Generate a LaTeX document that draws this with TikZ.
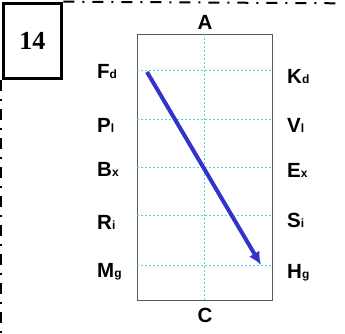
\documentclass[tikz,border=0pt]{standalone}
\usepackage{fontspec}
\setmainfont{Liberation Sans}
\newfontfamily\numfont{Liberation Serif}
\usetikzlibrary{arrows.meta,positioning}

\definecolor{gridcol}{RGB}{64,224,200}
\definecolor{arrowcol}{RGB}{51,51,204}
\newcommand{\sublab}[2]{#1{\fontsize{12}{12}\selectfont #2}}

\begin{document}
\begin{tikzpicture}[x=1pt,y=-1pt,font=\bfseries\fontsize{20.5}{20.5}\selectfont,
  frameline/.style={line width=2pt,dash pattern=on 11pt off 8pt on 2pt off 8pt},
  gridline/.style={gridcol,line width=1pt,dash pattern=on 2.2pt off 1.8pt},
  levellab/.style={inner sep=0pt,anchor=base west},
  vector/.style={arrowcol,line width=4pt,-{Latex[length=13pt,width=12pt]}}]
  \useasboundingbox (0,0) rectangle (345,333);
  % number box and page frame
  \node[draw,line width=3.3pt,minimum width=58.4pt,minimum height=75.4pt,inner sep=0pt]
    (num) at (32.5,41) {\numfont\fontsize{26}{26}\selectfont 14};
  \draw[frameline] (num.north east) -- (338,3.3);
  \draw[frameline] (1.2,80) -- (1.2,333);
  % panel
  \node[draw=black!65,line width=1pt,minimum width=135pt,minimum height=266pt,inner sep=0pt]
    (panel) at (204.5,167) {};
  \draw[gridline] (panel.north) -- (panel.south);
  \node (top) at (205,22) {A};
  \node (bottom) at (205,315) {C};
  \foreach \gy/\lby/\rby/\lt/\rt [count=\i] in {
      70/78/83/{\sublab{F}{d}}/{\sublab{K}{d}},
      119/132/132/{\sublab{P}{l}}/{\sublab{V}{l}},
      167/176/177/{\sublab{B}{x}}/{\sublab{E}{x}},
      215/229/227/{\sublab{R}{i}}/{\sublab{S}{i}},
      265/277/278/{\sublab{M}{g}}/{\sublab{H}{g}}} {
    \draw[gridline] (137,\gy) -- (272,\gy);
    \node[levellab] (L\i) at (97,\lby) {\lt};
    \node[levellab] (R\i) at (287,\rby) {\rt};
  }
  \coordinate (tail) at (147,72);
  \coordinate (head) at (261,265);
  \draw[vector] (tail) -- (head);
\end{tikzpicture}
\end{document}
